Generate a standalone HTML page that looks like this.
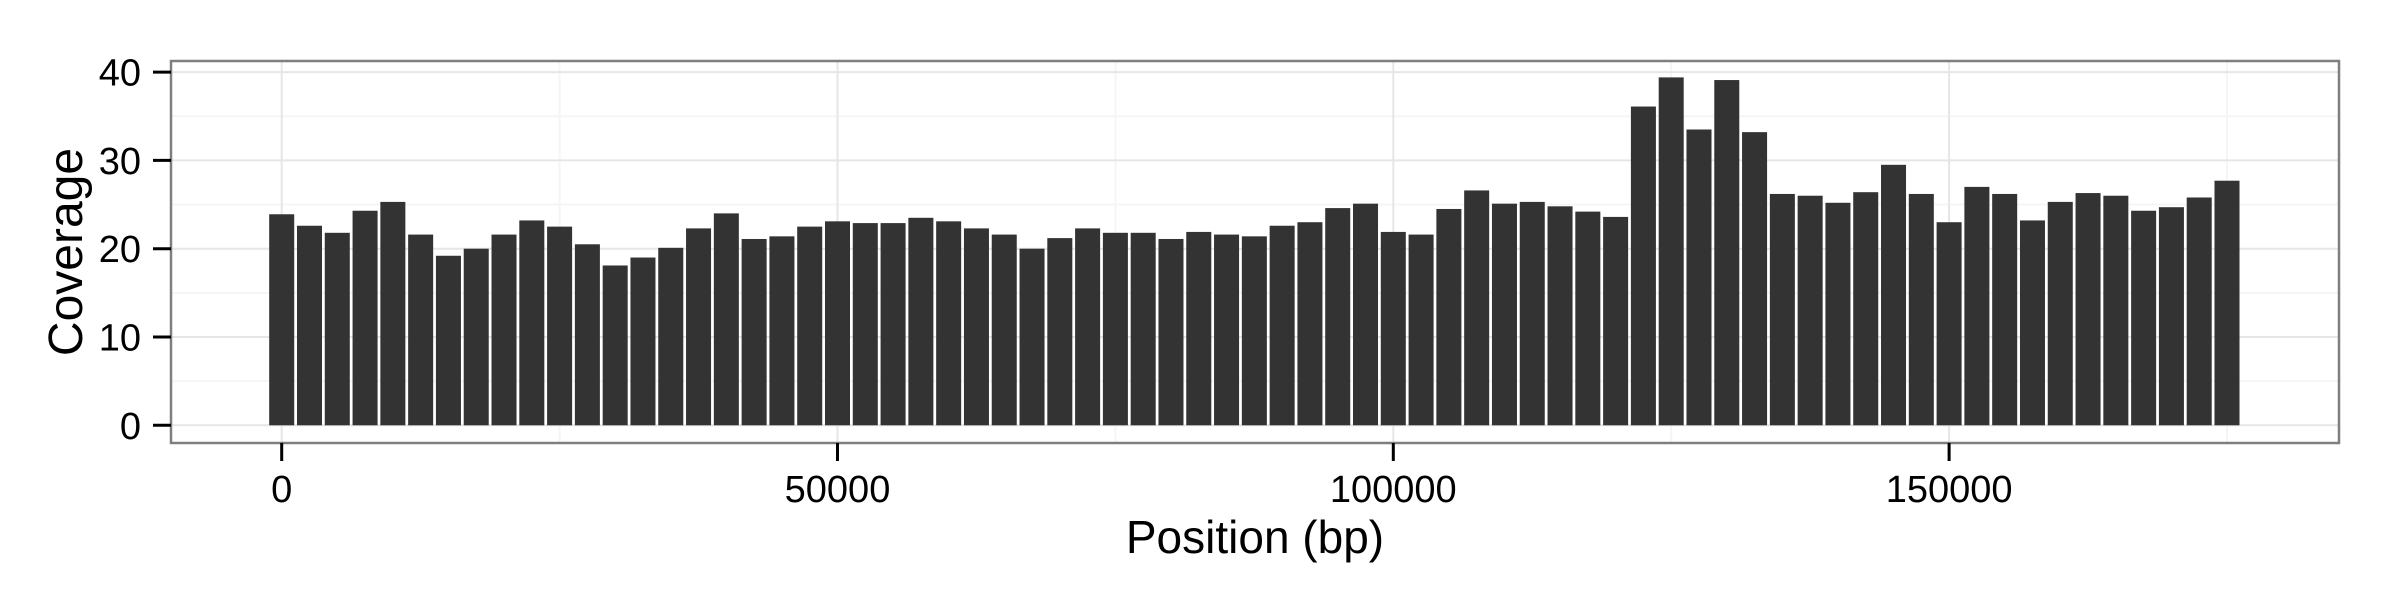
<!DOCTYPE html>
<html><head><meta charset="utf-8">
<style>
html,body{margin:0;padding:0;background:#fff;}
svg{display:block;font-family:"Liberation Sans",Arial,sans-serif;}
</style></head>
<body>
<svg id="chart" width="2400" height="600" viewBox="0 0 2400 600" xmlns="http://www.w3.org/2000/svg">
<rect x="0" y="0" width="2400" height="600" fill="#fff"/>
<g id="grid"></g>
<g id="bars"></g>
<rect x="171" y="61" width="2168" height="382" fill="none" stroke="#7f7f7f" stroke-width="2.5"/>
<g id="axes"></g>
<text x="1255" y="553" font-size="46" text-anchor="middle">Position (bp)</text>
<text transform="translate(82,252) rotate(-90)" font-size="48" text-anchor="middle">Coverage</text>
</svg>
<script>
const binStart = 0;
const binSize = 2500;
const coverage = [23.9,22.6,21.8,24.3,25.3,21.6,19.2,20.0,21.6,23.2,22.5,20.5,18.1,19.0,20.1,22.3,24.0,21.1,21.4,22.5,23.1,22.9,22.9,23.5,23.1,22.3,21.6,20.0,21.2,22.3,21.8,21.8,21.1,21.9,21.6,21.4,22.6,23.0,24.6,25.1,21.9,21.6,24.5,26.6,25.1,25.3,24.8,24.2,23.6,36.1,39.4,33.5,39.1,33.2,26.2,26.0,25.2,26.4,29.5,26.2,23.0,27.0,26.2,23.2,25.3,26.3,26.0,24.3,24.7,25.8,27.7];
const yTicks = [0,10,20,30,40];
const yMinor = [5,15,25,35];
const xTicks = [0,50000,100000,150000];
const xMinor = [25000,75000,125000,175000];

const NS = "http://www.w3.org/2000/svg";
const PL = 171, PR = 2339, PT = 61, PB = 443;
function xs(v){ return 281.7 + v * (555.8/50000); }
function ys(v){ return 425.3 - v * 8.83; }
function mk(tag, attrs, parent){
  const e = document.createElementNS(NS, tag);
  for (const k in attrs) e.setAttribute(k, attrs[k]);
  parent.appendChild(e);
  return e;
}
const grid = document.getElementById('grid');
const bars = document.getElementById('bars');
const axes = document.getElementById('axes');
yMinor.forEach(v=>{
  const l = mk('line',{x1:PL,x2:PR,y1:ys(v),y2:ys(v),stroke:'#f5f5f5','stroke-width':2},grid);
  
  
});
xMinor.forEach(v=>{
  const l = mk('line',{x1:xs(v),x2:xs(v),y1:PT,y2:PB,stroke:'#f5f5f5','stroke-width':2},grid);
  
  
});
yTicks.forEach(v=>{
  const l = mk('line',{x1:PL,x2:PR,y1:ys(v),y2:ys(v),stroke:'#e6e6e6','stroke-width':2},grid);
  
  
  const t = mk('line',{x1:153,x2:171,y1:ys(v),y2:ys(v),stroke:'#000','stroke-width':3},axes);
  
  
  const tx = mk('text',{x:141,y:ys(v)+13.5,'font-size':38,'text-anchor':'end'},axes);
  tx.textContent = v;
  
  
});
xTicks.forEach(v=>{
  const l = mk('line',{x1:xs(v),x2:xs(v),y1:PT,y2:PB,stroke:'#e6e6e6','stroke-width':2},grid);
  
  
  const t = mk('line',{x1:xs(v),x2:xs(v),y1:PB,y2:461,stroke:'#000','stroke-width':3},axes);
  
  
  const tx = mk('text',{x:xs(v),y:502,'font-size':38,'text-anchor':'middle'},axes);
  tx.textContent = v;
  
  
});
coverage.forEach((c,i)=>{
  const center = binStart + i*binSize;
  const w = xs(binSize*0.9) - xs(0);
  const r = mk('rect',{x:xs(center)-w/2,y:ys(c),width:w,height:ys(0)-ys(c),fill:'#333333'},bars);
  
  
});
</script>
</body></html>
